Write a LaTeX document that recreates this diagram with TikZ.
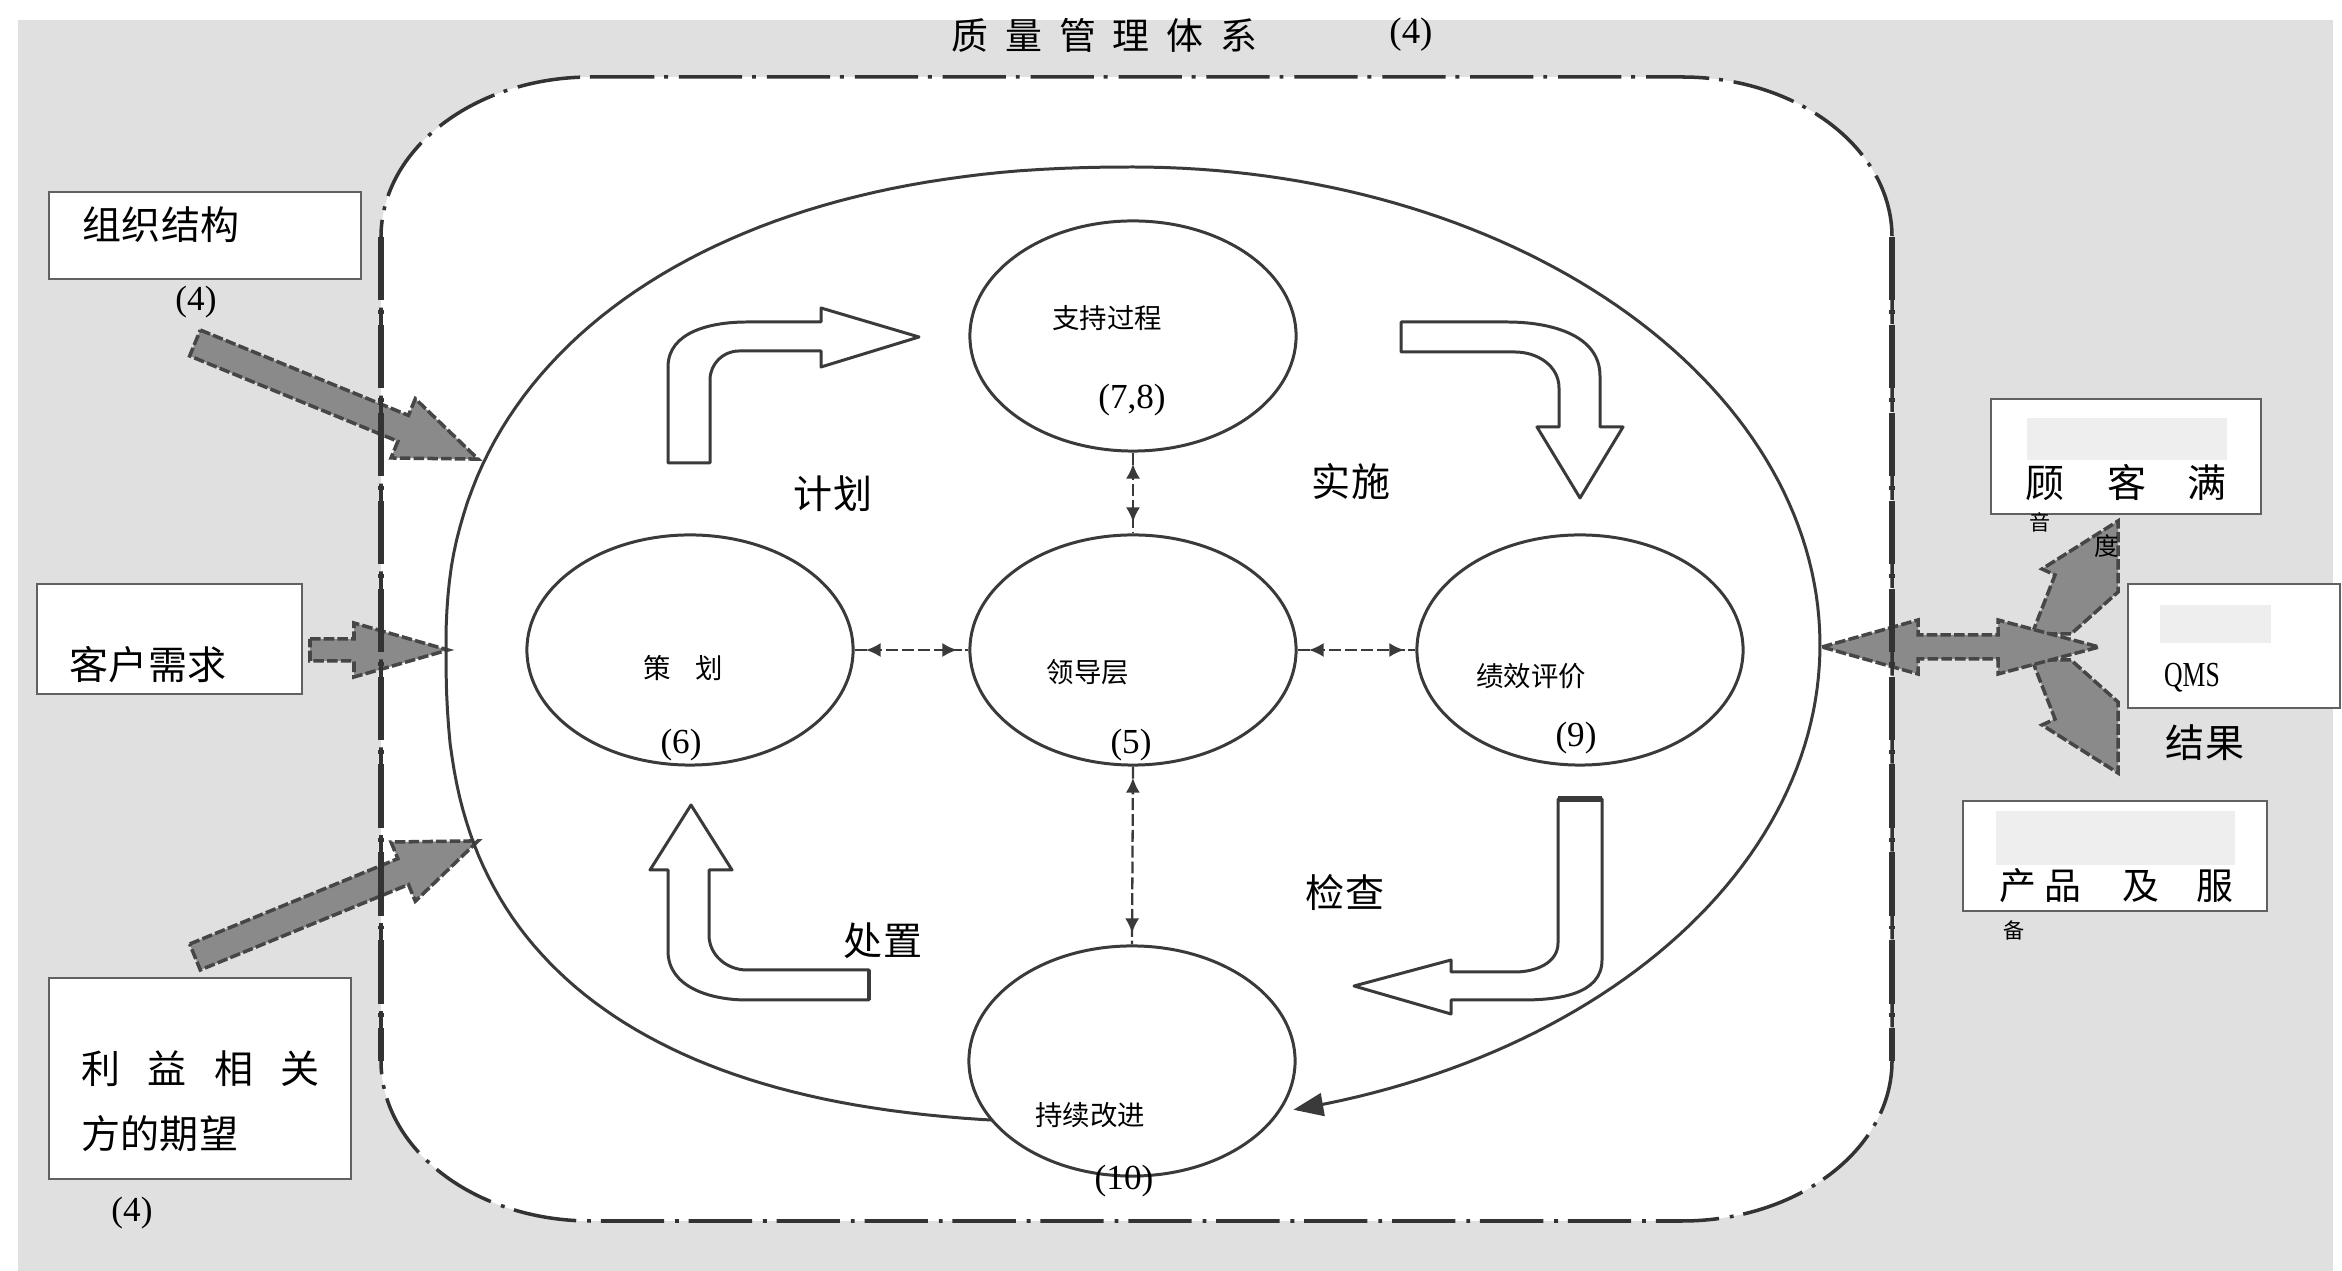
\documentclass[tikz,border=0pt]{standalone}
\usepackage{fontspec}
\usepackage{graphicx}
\setmainfont{Liberation Serif}
\newfontfamily\cjk{Noto Sans CJK SC}
\usetikzlibrary{arrows.meta,decorations.markings,shapes.geometric}

\definecolor{bggray}{RGB}{224,224,224}
\definecolor{linegray}{RGB}{58,58,58}
\definecolor{arrowfill}{RGB}{138,138,138}
\definecolor{arrowline}{RGB}{70,70,70}
\definecolor{patch}{RGB}{238,238,238}

\newcommand\qmsgrayarrow[7]{%
  \path[garrow, shift={(#1,#2)}, rotate=#3]
    (0,-#5) -- ({#4-#7},-#5) -- ({#4-#7},-#6) -- (#4,0) -- ({#4-#7},#6) -- ({#4-#7},#5) -- (0,#5) -- cycle;}

\begin{document}
\begin{tikzpicture}[x=0.01cm, y=-0.01cm,
  circ/.style={ellipse, draw=linegray, line width=0.85pt, fill=white, minimum width=3.26cm, minimum height=2.30cm, inner sep=0pt},
  insty/.style={font=\cjk\fontsize{7.8}{9}\selectfont, inner sep=0pt},
  numsty/.style={font=\fontsize{10}{12}\selectfont, inner sep=0pt},
  biglab/.style={font=\cjk\fontsize{11.1}{13}\selectfont, inner sep=0pt},
  titlesty/.style={font=\cjk\fontsize{10.5}{12}\selectfont, inner sep=0pt},
  smallsty/.style={font=\cjk\fontsize{6}{7}\selectfont, inner sep=0pt},
  sidebox/.style={draw=black!62, line width=0.7pt, fill=white, inner sep=0pt},
  garrow/.style={fill=arrowfill, draw=arrowline, line width=1pt, dash pattern=on 3pt off 0.9pt, line join=miter},
  hollow/.style={draw=linegray, line width=0.85pt, fill=white, line join=round},
  qmsborder/.style={draw=black!80, line width=1pt, dash pattern=on 18pt off 2.8pt on 1.1pt off 3.1pt},
  bigell/.style={draw=linegray, line width=0.85pt},
  link/.style={draw=linegray, line width=0.65pt, dash pattern=on 3.4pt off 1.1pt,
    postaction={decorate},
    decoration={markings,
      mark=at position 3.2pt with {\arrowreversed{Latex[length=4.2pt,width=4pt]}},
      mark=at position -3.2pt with {\arrow{Latex[length=4.2pt,width=4pt]}}}}
]
\useasboundingbox (0,0) rectangle (2342,1271);
\fill[white] (0,0) rectangle (2342,1271);
\fill[bggray] (18,20) rectangle (2333,1271);

% title
\node[titlesty] (title) at (1104.5,35) {质\hspace{4.8pt}量\hspace{4.8pt}管\hspace{4.8pt}理\hspace{4.8pt}体\hspace{4.8pt}系};
\node[numsty, font=\fontsize{10.5}{12}\selectfont] (titlenum) at (1411,35) {(4)};

% white area of the QMS frame
\fill[white] (591,77) -- (1682,77) .. controls (1798,77) and (1892,149) .. (1892,237)
  -- (1892,1061) .. controls (1892,1149) and (1798,1221) .. (1682,1221)
  -- (591,1221) .. controls (475,1221) and (381,1149) .. (381,1061)
  -- (381,237) .. controls (381,149) and (475,77) .. (591,77) -- cycle;

% left input arrows
\qmsgrayarrow{195}{343}{-22.3}{306}{14}{32}{81}
\qmsgrayarrow{310}{650}{0}{138}{11}{27}{94}
\qmsgrayarrow{195}{957}{22.3}{306}{14}{32}{81}

% right output arrows
\path[garrow] (2032,634) -- (2055,575) -- (2042,569) -- (2118,521) -- (2118,592) -- (2071,634) -- cycle;
\path[garrow] (2032,660) -- (2055,719) -- (2042,725) -- (2118,773) -- (2118,702) -- (2071,660) -- cycle;
\path[garrow] (1822,647) -- (1918,620) -- (1918,635) -- (1998,635) -- (1998,620) -- (2099,647)
  -- (1998,674) -- (1998,659) -- (1918,659) -- (1918,674) -- cycle;

% frame border
\draw[qmsborder] (591,77) -- (1682,77) .. controls (1798,77) and (1892,149) .. (1892,237)
  -- (1892,1061) .. controls (1892,1149) and (1798,1221) .. (1682,1221)
  -- (591,1221) .. controls (475,1221) and (381,1149) .. (381,1061)
  -- (381,237) .. controls (381,149) and (475,77) .. (591,77) -- cycle;
\draw[qmsborder, line width=1.7pt] (381,237) -- (381,1061);
\draw[qmsborder, line width=1.7pt] (1892,237) -- (1892,1061);

% left boxes
\node[sidebox, minimum width=3.12cm, minimum height=0.87cm] (boxorg) at (205,235.5) {};
\node[biglab] (torg) at (161,225) {组织结构};
\node[numsty] (norg) at (196,302) {(4)};
\node[sidebox, minimum width=2.65cm, minimum height=1.10cm] (boxcust) at (169.5,639) {};
\node[biglab] (tcust) at (148,665) {客户需求};
\node[sidebox, minimum width=3.02cm, minimum height=2.01cm] (boxint) at (200,1078.5) {};
\node[biglab] (tint1) at (200.5,1069) {利\hspace{7.7pt}益\hspace{7.7pt}相\hspace{7.7pt}关};
\node[biglab] (tint2) at (160,1134) {方的期望};
\node[numsty] (nint) at (132,1213) {(4)};

% big cycle
\draw[bigell, -{Triangle[length=8.5pt,width=6.5pt]}]
  plot[domain=95:180, samples=60] ({1133-687*pow(abs(cos(\x))+0.00001,0.77)}, {645+478*pow(abs(sin(\x))+0.00001,0.77)})
  -- plot[domain=180:270, samples=60] ({1133-687*pow(abs(cos(\x))+0.00001,0.9)}, {645-478*pow(abs(sin(\x))+0.00001,0.9)})
  -- plot[domain=270:436.5, samples=120] ({1133+687*cos(\x)}, {645+478*sin(\x)});

% process circles
\node[circ] (sup) at (1133,336) {};
\node[circ] (plan) at (690,650) {};
\node[circ] (lead) at (1133,650) {};
\node[circ] (perf) at (1580,650) {};
\node[circ] (impr) at (1132,1061) {};

\node[insty] (tsup) at (1107,318) {支持过程};
\node[numsty] (nsup) at (1132,400) {(7,8)};
\node[insty] (tplan) at (683,668) {策\hspace{7pt}划};
\node[numsty] (nplan) at (681,745) {(6)};
\node[insty] (tlead) at (1088,672) {领导层};
\node[numsty] (nlead) at (1131,745) {(5)};
\node[insty] (tperf) at (1531,676) {绩效评价};
\node[numsty] (nperf) at (1576,738) {(9)};
\node[insty] (timpr) at (1090,1115) {持续改进};
\node[numsty] (nimpr) at (1124,1181) {(10)};

% connectors
\draw[link] (sup.south) -- (lead.north);
\draw[link] (lead.south) -- (impr.north);
\draw[link] (plan.east) -- (lead.west);
\draw[link] (lead.east) -- (perf.west);

% hollow PDCA arrows
\draw[hollow] (668,463) -- (668,367) to[out=90,in=180] (747,322) -- (821,322) -- (821,308) -- (919,337)
  -- (821,367) -- (821,351) -- (739,351) to[out=180,in=90] (710,380) -- (710,463) -- cycle;
\draw[hollow] (1401,322) -- (1507,322) to[out=0,in=90] (1600,376) -- (1600,427) -- (1623,427) -- (1580,498)
  -- (1537,427) -- (1559,427) -- (1559,388) to[out=90,in=0] (1515,352) -- (1401,352) -- cycle;
\draw[hollow] (1558,799) -- (1602,799) -- (1602,960) to[out=-90,in=0] (1522,1000) -- (1451,1000) -- (1451,1014)
  -- (1354,986) -- (1451,960) -- (1451,972) -- (1515,972) to[out=0,in=-90] (1558,943) -- cycle;
\draw[linegray, line width=1.6pt] (1558,799) -- (1602,799);
\draw[hollow] (869,1000) -- (747,1000) to[out=180,in=-90] (668,951) -- (668,870) -- (650,870) -- (691,805)
  -- (732,870) -- (709,870) -- (709,935) to[out=-90,in=180] (747,970) -- (869,970) -- cycle;
\draw[linegray, line width=1.4pt] (869,970) -- (869,1000);

\node[biglab] (lplan) at (833,494) {计划};
\node[biglab] (ldo) at (1351,482) {实施};
\node[biglab] (lcheck) at (1345,893) {检查};
\node[biglab] (lact) at (883,941) {处置};

% right boxes
\node[sidebox, minimum width=2.70cm, minimum height=1.15cm] (boxsat) at (2126,456.5) {};
\fill[patch] (2027,418) rectangle (2227,460);
\node[biglab] (tsat) at (2126,483) {顾\hspace{12pt}客\hspace{11.7pt}满};
\node[smallsty] (tsat2) at (2040,522) {音};
\node[smallsty, font=\cjk\fontsize{7}{8}\selectfont] (tsat3) at (2107,546) {度};
\node[sidebox, minimum width=2.12cm, minimum height=1.24cm] (boxqms) at (2234,646) {};
\fill[patch] (2160,605) rectangle (2271,643);
\node[numsty] (tqms) at (2192,678) {\scalebox{0.73}[1]{QMS}};
\node[biglab] (tres) at (2205,743) {结果};
\node[sidebox, minimum width=3.04cm, minimum height=1.10cm] (boxprod) at (2115,856) {};
\fill[patch] (1996,811) rectangle (2235,865);
\node[biglab, font=\cjk\fontsize{10.5}{12}\selectfont] (tprod) at (2116.5,886) {产\hspace{2.3pt}品\hspace{11.7pt}及\hspace{10.5pt}服};
\node[smallsty] (tprod2) at (2014,930) {备};
\end{tikzpicture}
\end{document}
